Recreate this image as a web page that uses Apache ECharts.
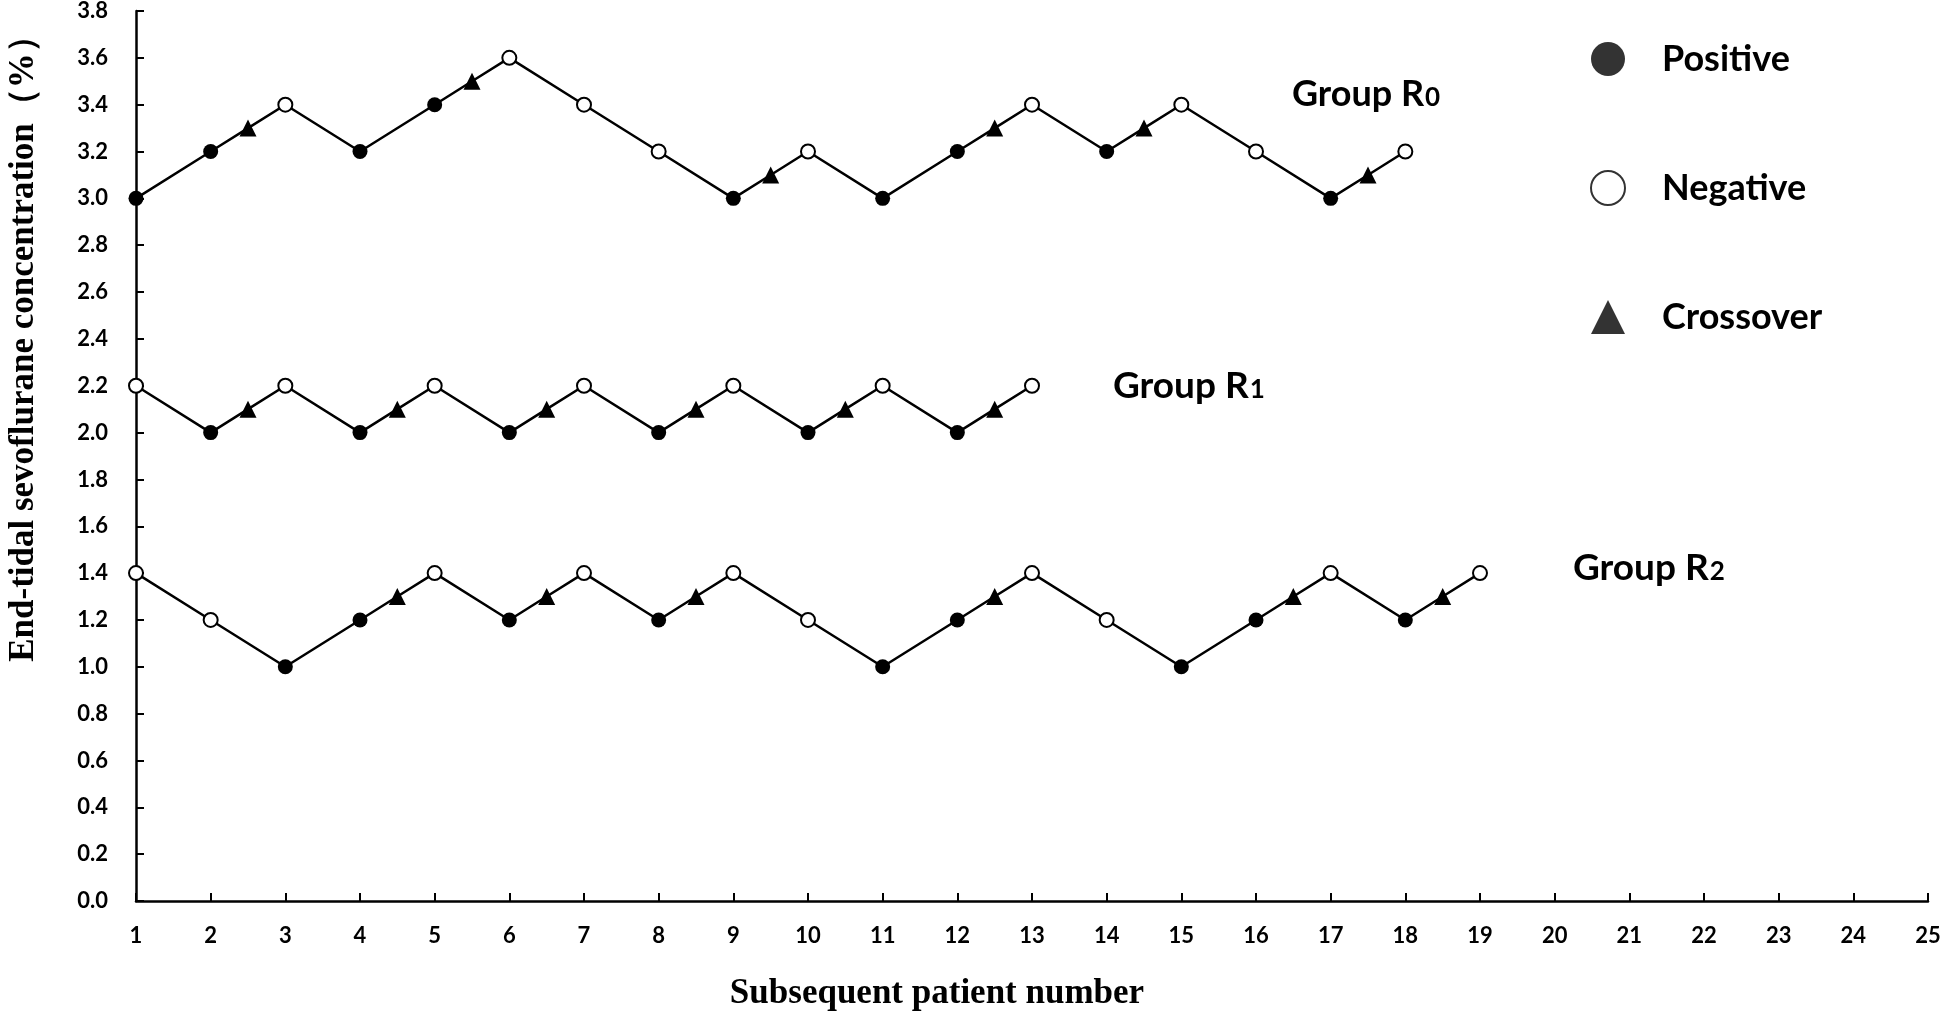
<!DOCTYPE html>
<html>
<head>
<meta charset="utf-8">
<script src="https://cdn.jsdelivr.net/npm/echarts@6/dist/echarts.min.js"></script>
<style>
html,body{margin:0;padding:0;background:#fff;}
#chart{width:1944px;height:1015px;}
</style>
</head>
<body>
<div id="chart"></div>
<script>
// ---- data ----
// x = subsequent patient number (crossover points sit midway), y = end-tidal sevoflurane (%)
// marker: P = positive, N = negative, C = crossover
const r0X = [1, 2, 2.5, 3, 4, 5, 5.5, 6, 7, 8, 9, 9.5, 10, 11, 12, 12.5, 13, 14, 14.5, 15, 16, 17, 17.5, 18];
const r0Y = [3.0, 3.2, 3.3, 3.4, 3.2, 3.4, 3.5, 3.6, 3.4, 3.2, 3.0, 3.1, 3.2, 3.0, 3.2, 3.3, 3.4, 3.2, 3.3, 3.4, 3.2, 3.0, 3.1, 3.2];
const r0M = ['P','P','C','N','P','P','C','N','N','N','P','C','N','P','P','C','N','P','C','N','N','P','C','N'];

const r1X = [1, 2, 2.5, 3, 4, 4.5, 5, 6, 6.5, 7, 8, 8.5, 9, 10, 10.5, 11, 12, 12.5, 13];
const r1Y = [2.2, 2.0, 2.1, 2.2, 2.0, 2.1, 2.2, 2.0, 2.1, 2.2, 2.0, 2.1, 2.2, 2.0, 2.1, 2.2, 2.0, 2.1, 2.2];
const r1M = ['N','P','C','N','P','C','N','P','C','N','P','C','N','P','C','N','P','C','N'];

const r2X = [1, 2, 3, 4, 4.5, 5, 6, 6.5, 7, 8, 8.5, 9, 10, 11, 12, 12.5, 13, 14, 15, 16, 16.5, 17, 18, 18.5, 19];
const r2Y = [1.4, 1.2, 1.0, 1.2, 1.3, 1.4, 1.2, 1.3, 1.4, 1.2, 1.3, 1.4, 1.2, 1.0, 1.2, 1.3, 1.4, 1.2, 1.0, 1.2, 1.3, 1.4, 1.2, 1.3, 1.4];
const r2M = ['N','N','P','P','C','N','P','C','N','P','C','N','N','P','P','C','N','N','P','P','C','N','P','C','N'];

const groupNames = ['Group R0', 'Group R1', 'Group R2'];
const legendNames = ['Positive', 'Negative', 'Crossover'];
const xTitle = 'Subsequent patient number';
const yTitle = 'End-tidal sevoflurane concentration\uFF08%\uFF09';

// ---- styles ----
const markerStyle = {
  P: { symbol: 'circle', symbolSize: 15, itemStyle: { color: '#000', borderColor: '#000', borderWidth: 0 } },
  N: { symbol: 'circle', symbolSize: 14, itemStyle: { color: '#fff', borderColor: '#000', borderWidth: 2 } },
  C: { symbol: 'triangle', symbolSize: 17, itemStyle: { color: '#000', borderColor: '#000', borderWidth: 0 } }
};
function build(xs, ys, ms) {
  return xs.map((x, i) => Object.assign({ value: [x, ys[i]] }, markerStyle[ms[i]]));
}
function lineSeries(name, xs, ys, ms) {
  return {
    name: name, type: 'line', data: build(xs, ys, ms),
    lineStyle: { color: '#000', width: 2.5 },
    itemStyle: { color: '#000' },
    showAllSymbol: true, animation: false, z: 3,
    emphasis: { disabled: true }
  };
}

const labelFont = 'Lato, "Open Sans", sans-serif';
const serif = '"Liberation Serif", "DejaVu Serif", serif';
const groupRich = { s: { fontSize: 26, fontWeight: 'bold', fontFamily: labelFont, fill: '#000', padding: [7, 0, 0, 1] } };

const chart = echarts.init(document.getElementById('chart'));
chart.setOption({
  backgroundColor: '#fff',
  animation: false,
  grid: { left: 136, right: 16, top: 10, bottom: 114, containLabel: false },
  xAxis: {
    type: 'value', min: 1, max: 25, interval: 1,
    axisLine: { lineStyle: { color: '#000', width: 2.5 } },
    axisTick: { inside: true, length: 8, lineStyle: { color: '#000', width: 2 } },
    splitLine: { show: false },
    axisLabel: { color: '#000', fontFamily: labelFont, fontWeight: 'bold', fontSize: 22, margin: 24 }
  },
  yAxis: {
    type: 'value', min: 0, max: 3.8, interval: 0.2,
    axisLine: { show: true, lineStyle: { color: '#000', width: 2.5 } },
    axisTick: { show: true, inside: true, length: 8, lineStyle: { color: '#000', width: 2 } },
    splitLine: { show: false },
    axisLabel: { color: '#000', fontFamily: labelFont, fontWeight: 'bold', fontSize: 22, margin: 28,
      formatter: v => v.toFixed(1) }
  },
  legend: {
    orient: 'vertical', left: 1585, top: 36,
    itemWidth: 34, itemHeight: 34, itemGap: 93,
    selectedMode: false,
    textStyle: { color: '#000', fontFamily: labelFont, fontWeight: 'bold', fontSize: 36, padding: [0, 0, 0, 32] },
    data: [
      { name: legendNames[0], icon: 'circle', itemStyle: { color: '#000', borderWidth: 0 } },
      { name: legendNames[1], icon: 'circle', itemStyle: { color: '#fff', borderColor: '#000', borderWidth: 2 } },
      { name: legendNames[2], icon: 'triangle', itemStyle: { color: '#000', borderWidth: 0 } }
    ]
  },
  series: [
    lineSeries(groupNames[0], r0X, r0Y, r0M),
    lineSeries(groupNames[1], r1X, r1Y, r1M),
    lineSeries(groupNames[2], r2X, r2Y, r2M),
    { name: legendNames[0], type: 'scatter', data: [], symbol: 'circle', itemStyle: { color: '#000' } },
    { name: legendNames[1], type: 'scatter', data: [], symbol: 'circle', itemStyle: { color: '#fff', borderColor: '#000', borderWidth: 2 } },
    { name: legendNames[2], type: 'scatter', data: [], symbol: 'triangle', itemStyle: { color: '#000' } }
  ],
  graphic: [
    { type: 'text', left: 1292, top: 76, style: { text: 'Group R{s|0}', fill: '#000', font: 'bold 36px ' + labelFont, rich: groupRich } },
    { type: 'text', left: 1113, top: 368, style: { text: 'Group R{s|1}', fill: '#000', font: 'bold 37px ' + labelFont, rich: groupRich } },
    { type: 'text', left: 1573, top: 550, style: { text: 'Group R{s|2}', fill: '#000', font: 'bold 37px ' + labelFont, rich: groupRich } },
    { type: 'text', x: 937, y: 994, style: { text: xTitle, fill: '#000', font: 'bold 35px ' + serif, align: 'center', verticalAlign: 'middle' } },
    { type: 'text', x: 24, y: 340, rotation: Math.PI / 2, style: { text: yTitle, fill: '#000', font: 'bold 35px ' + serif, align: 'center', verticalAlign: 'middle' } }
  ]
});
</script>
</body>
</html>
